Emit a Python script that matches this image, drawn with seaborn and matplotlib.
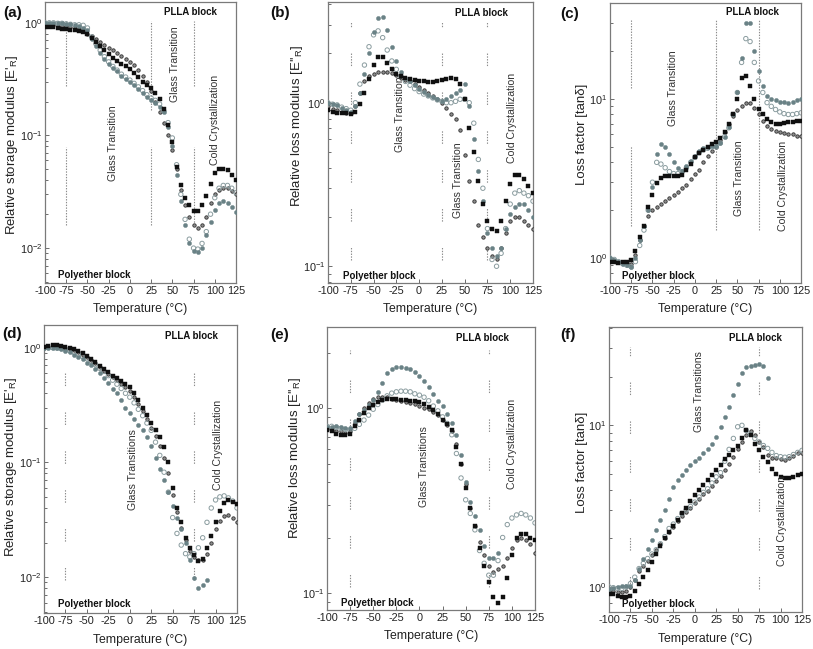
import numpy as np
import pandas as pd
import matplotlib
matplotlib.use("Agg")
import matplotlib.pyplot as plt
import seaborn as sns
from matplotlib.ticker import LogLocator, NullFormatter, LogFormatterSciNotation, FixedLocator

sns.set_theme(style="white")
plt.rcParams['font.family'] = ['Liberation Sans', 'DejaVu Sans']
plt.rcParams['mathtext.fontset'] = 'custom'
plt.rcParams['mathtext.rm'] = 'Liberation Sans'
plt.rcParams['mathtext.it'] = 'Liberation Sans:italic'
plt.rcParams['mathtext.bf'] = 'Liberation Sans:bold'
plt.rcParams['axes.unicode_minus'] = False
plt.rcParams['lines.scale_dashes'] = False

# ---------------- data ----------------
TEMP = [-100, -95, -90, -85, -80, -75, -70, -65, -60, -55, -50, -45, -40, -35, -30,
        -25, -20, -15, -10, -5, 0, 5, 10, 15, 20, 25, 30, 35, 40, 45, 50, 55, 60,
        65, 70, 75, 80, 85, 90, 95, 100, 105, 110, 115, 120, 125]
XTICKS = [-100, -75, -50, -25, 0, 25, 50, 75, 100, 125]
nan = np.nan

# (a) relative storage modulus, set 1
A_black = [0.92,0.91,0.91,0.90,0.89,0.88,0.87,0.86,0.85,0.83,0.80,0.74,0.68,0.62,0.57,0.53,0.49,0.46,0.43,0.41,
           0.39,0.36,0.33,0.30,0.28,0.265,0.24,0.21,0.17,0.125,0.088,0.052,0.036,0.028,0.024,0.0215,0.0215,0.024,0.029,0.037,
           0.046,0.050,0.050,0.049,0.045,0.040]
A_dark = [0.95,0.95,0.95,0.94,0.94,0.93,0.92,0.90,0.88,0.85,0.80,0.76,0.72,0.68,0.64,0.60,0.57,0.54,0.51,0.48,
          0.45,0.42,0.38,0.34,0.30,0.25,0.20,0.16,0.13,0.10,0.075,0.050,0.033,0.024,0.019,0.016,0.015,0.016,0.019,0.025,
          0.030,0.033,0.034,0.034,0.032,0.030]
A_open = [1.0,1.0,1.0,0.99,0.99,0.98,0.97,0.96,0.96,0.95,0.90,0.75,0.65,0.57,0.50,0.45,0.41,0.38,0.35,0.33,
          0.31,0.29,0.27,0.25,0.23,0.215,0.205,0.19,0.165,0.13,0.095,0.055,0.030,0.018,0.012,0.010,0.0098,0.011,0.014,0.020,
          0.028,0.034,0.036,0.036,0.034,0.031]
A_gray = [1.0,1.0,1.0,1.0,0.99,0.98,0.97,0.95,0.93,0.90,0.86,0.72,0.62,0.54,0.48,0.43,0.40,0.37,0.34,0.32,
          0.30,0.28,0.26,0.24,0.22,0.205,0.195,0.18,0.16,0.12,0.08,0.045,0.026,0.016,0.011,0.0095,0.0093,0.010,0.013,0.017,
          0.022,0.025,0.026,0.025,0.023,0.021]

# (b) relative loss modulus, set 1
B_black = [0.90,0.88,0.87,0.86,0.86,0.85,0.88,0.98,1.15,1.40,1.70,1.90,1.90,1.75,1.60,1.50,1.45,1.42,1.40,1.38,
           1.36,1.35,1.34,1.34,1.35,1.38,1.40,1.42,1.40,1.30,1.05,0.70,0.50,0.33,0.24,0.19,0.17,0.165,0.19,0.25,
           0.32,0.36,0.36,0.34,0.31,0.28]
B_dark = [0.95,0.92,0.90,0.88,0.87,0.86,0.95,1.15,1.35,1.45,1.50,1.55,1.55,1.55,1.52,1.48,1.42,1.38,1.35,1.30,
          1.25,1.20,1.15,1.10,1.05,1.00,0.93,0.85,0.80,0.68,0.48,0.33,0.25,0.18,0.15,0.13,0.115,0.11,0.13,0.16,
          0.19,0.20,0.20,0.19,0.18,0.17]
B_open = [1.0,0.98,0.97,0.94,0.92,0.90,1.0,1.3,1.7,2.2,2.6,2.75,2.5,2.1,1.8,1.6,1.45,1.35,1.28,1.22,
          1.17,1.13,1.10,1.07,1.04,1.02,1.00,1.00,1.02,1.05,1.05,1.00,0.75,0.45,0.30,0.17,0.11,0.10,0.12,0.17,
          0.24,0.28,0.29,0.28,0.27,0.25]
B_gray = [1.0,0.98,0.97,0.93,0.90,0.88,0.95,1.15,1.5,2.0,2.7,3.3,3.35,2.8,2.2,1.8,1.55,1.42,1.35,1.28,
          1.22,1.16,1.12,1.08,1.05,1.03,1.05,1.10,1.15,1.20,1.30,0.95,0.60,0.38,0.25,0.16,0.13,0.115,0.13,0.17,
          0.21,0.23,0.24,0.24,0.22,0.20]

# (c) loss factor, set 1
C_black = [0.95,0.94,0.93,0.94,0.95,0.97,1.1,1.35,1.6,2.1,2.5,2.95,3.2,3.3,3.3,3.3,3.3,3.35,3.6,3.9,
           4.3,4.6,4.8,5.0,5.2,5.4,5.7,6.2,7.0,8.0,10.0,13.5,14.0,12.0,10.0,8.7,8.0,7.5,7.2,7.0,
           7.0,7.1,7.2,7.2,7.3,7.3]
C_dark = [0.97,0.96,0.95,0.94,0.93,0.92,1.05,1.3,1.6,1.85,2.0,2.1,2.2,2.3,2.4,2.5,2.6,2.75,2.9,3.15,
          3.4,3.6,4.0,4.4,4.7,5.0,5.5,6.2,7.0,7.8,8.5,9.0,9.5,9.5,8.8,8.0,7.3,6.8,6.5,6.3,
          6.2,6.1,6.0,6.0,5.9,5.9]
C_open = [1.0,0.98,0.95,0.92,0.90,0.88,0.95,1.2,1.5,2.0,3.0,4.0,3.9,3.7,3.5,3.4,3.4,3.5,3.7,4.0,
          4.3,4.6,4.8,4.9,5.0,5.0,5.3,5.8,6.6,8.0,11,17,24,23,17,13,11,9.5,9.0,8.6,
          8.3,8.1,8.0,8.0,8.1,8.2]
C_gray = [1.0,0.97,0.94,0.92,0.90,0.88,1.0,1.3,1.6,2.0,2.8,4.5,5.2,5.0,4.5,4.0,3.7,3.55,3.8,4.1,
          4.4,4.7,4.9,5.0,5.1,5.1,5.3,5.8,6.7,8.0,11,18,30,30,20,15,12,10.5,10,9.8,
          9.6,9.6,9.5,9.6,9.8,10]

# (d) relative storage modulus, set 2
D_black = [1.02,1.04,1.05,1.05,1.04,1.02,1.0,0.97,0.93,0.89,0.85,0.8,0.75,0.69,0.65,0.61,0.57,0.54,0.51,0.48,
           0.45,0.40,0.35,0.30,0.26,0.22,0.19,0.165,0.135,0.1,0.06,0.04,0.03,0.022,0.018,0.0155,0.0138,0.0145,0.018,0.023,
           0.03,0.038,0.044,0.047,0.045,0.043]
D_dark = [1.0,1.02,1.03,1.03,1.02,1.0,0.98,0.95,0.91,0.87,0.83,0.78,0.73,0.68,0.63,0.59,0.55,0.52,0.48,0.45,
          0.42,0.37,0.32,0.28,0.24,0.20,0.17,0.14,0.11,0.08,0.052,0.037,0.027,0.021,0.017,0.015,0.014,0.014,0.016,0.02,
          0.026,0.031,0.034,0.035,0.033,0.03]
D_open = [1.0,1.0,1.0,0.99,0.98,0.96,0.94,0.91,0.88,0.84,0.80,0.76,0.71,0.66,0.62,0.57,0.52,0.48,0.44,0.40,
          0.37,0.33,0.29,0.255,0.22,0.19,0.15,0.115,0.082,0.055,0.033,0.024,0.019,0.016,0.015,0.016,0.018,0.022,0.03,0.04,
          0.047,0.05,0.051,0.049,0.046,0.04]
D_gray = [1.0,1.0,1.0,0.99,0.97,0.94,0.91,0.87,0.83,0.79,0.74,0.70,0.65,0.60,0.54,0.49,0.44,0.40,0.35,0.30,
          0.27,0.24,0.21,0.19,0.165,0.14,0.11,0.088,0.07,0.055,0.042,0.033,0.026,0.02,0.014,0.0098,0.008,0.0085,0.0095,nan,
          nan,nan,nan,nan,nan,nan]

# (e) relative loss modulus, set 2
E_black = [0.76,0.75,0.73,0.72,0.72,0.73,0.8,0.87,0.94,1.0,1.05,1.09,1.11,1.12,1.12,1.12,1.11,1.11,1.1,1.1,
           1.09,1.06,1.02,0.98,0.93,0.87,0.82,0.76,0.62,0.5,0.37,0.29,0.23,0.175,0.14,0.115,0.095,0.088,0.095,0.12,
           0.16,0.2,0.21,0.21,0.2,0.195]
E_dark = [0.77,0.76,0.75,0.75,0.74,0.75,0.83,0.93,1.0,1.07,1.12,1.15,1.16,1.15,1.13,1.11,1.1,1.08,1.07,1.06,
          1.03,1.01,0.99,0.96,0.92,0.87,0.81,0.75,0.64,0.5,0.39,0.29,0.23,0.19,0.16,0.14,0.13,0.135,0.14,0.155,
          0.175,0.194,0.2,0.195,0.185,0.165]
E_open = [0.8,0.8,0.79,0.78,0.77,0.76,0.78,0.82,0.865,0.92,0.99,1.05,1.11,1.17,1.21,1.23,1.24,1.24,1.23,1.2,
          1.18,1.15,1.1,1.03,0.97,0.9,0.83,0.72,0.57,0.42,0.32,0.27,0.22,0.17,0.145,0.125,0.125,0.15,0.2,0.235,
          0.255,0.265,0.27,0.265,0.255,0.24]
E_gray = [0.79,0.79,0.80,0.79,0.78,0.78,0.86,0.93,0.98,1.04,1.11,1.22,1.37,1.55,1.64,1.68,1.67,1.65,1.63,1.58,
          1.5,1.4,1.3,1.2,1.1,1.03,0.93,0.83,0.72,0.56,0.4,0.31,0.26,0.22,0.18,0.155,0.155,0.165,nan,nan,
          nan,nan,nan,nan,nan,nan]

# (f) loss factor, set 2
F_black = [0.91,0.9,0.88,0.87,0.87,0.88,0.95,1.05,1.15,1.27,1.42,1.6,1.8,2.0,2.2,2.4,2.6,2.85,3.1,3.4,
           3.7,4.0,4.3,4.6,4.95,5.3,5.7,6.2,6.6,7.0,7.5,8.3,9.4,8.7,7.7,7.0,6.4,5.9,5.4,5.0,
           4.8,4.7,4.7,4.8,4.9,5.0]
F_dark = [0.95,0.94,0.93,0.93,0.95,1.0,1.1,1.25,1.35,1.45,1.57,1.7,1.85,2.0,2.2,2.35,2.55,2.75,2.9,3.1,
          3.3,3.5,3.75,3.95,4.2,4.55,4.85,5.3,5.8,6.4,7.1,7.9,8.7,9.2,8.7,7.9,7.3,6.6,6.3,6.3,
          6.2,6.1,6.3,6.5,6.7,6.7]
F_open = [1.0,0.99,0.98,0.98,1.0,1.05,1.15,1.3,1.4,1.5,1.6,1.7,1.85,2.05,2.3,2.45,2.65,2.85,3.0,3.15,
          3.35,3.6,3.85,4.05,4.4,4.8,5.1,6.0,7.1,8.3,9.8,10.0,9.3,8.8,8.3,7.9,7.5,7.2,6.8,6.5,
          6.4,6.35,6.4,6.6,6.8,7.0]
F_gray = [0.97,0.98,1.0,1.02,1.01,1.02,1.1,1.3,1.5,1.72,1.95,2.24,2.6,3.0,3.5,4.15,4.6,4.95,5.3,5.7,
          6.0,6.3,6.7,7.1,7.7,8.5,9.8,11.2,13,15.5,18,21,22.8,23.3,23.6,24,23.4,19.5,nan,nan,
          nan,nan,nan,nan,nan,nan]

PANEL_DATA = {
    'a': {'black': A_black, 'dark': A_dark, 'open': A_open, 'gray': A_gray},
    'b': {'black': B_black, 'dark': B_dark, 'open': B_open, 'gray': B_gray},
    'c': {'black': C_black, 'dark': C_dark, 'open': C_open, 'gray': C_gray},
    'd': {'black': D_black, 'dark': D_dark, 'open': D_open, 'gray': D_gray},
    'e': {'black': E_black, 'dark': E_dark, 'open': E_open, 'gray': E_gray},
    'f': {'black': F_black, 'dark': F_dark, 'open': F_open, 'gray': F_gray},
}

YLABEL_STORAGE = "Relative storage modulus [E'$_{\\rm R}$]"
YLABEL_LOSS = "Relative loss modulus [E''$_{\\rm R}$]"
YLABEL_TAN = "Loss factor [tanδ]"
XLABEL = "Temperature (°C)"

# ---------------- layout / style ----------------
W, H = 813, 649
# pixel boxes: left, top, right, bottom
BOX = {'a': (45, 2, 236, 283), 'b': (328, 2, 533, 283), 'c': (610, 3, 801, 283),
       'd': (44, 325, 237, 613), 'e': (327, 327, 535, 610), 'f': (609, 327, 802, 612)}
YLIM = {'a': (0.0049, 1.53), 'b': (0.079, 4.13), 'c': (0.697, 40.2),
        'd': (0.00486, 1.575), 'e': (0.081, 2.76), 'f': (0.70, 40.6)}
YLAB = {'a': YLABEL_STORAGE, 'b': YLABEL_LOSS, 'c': YLABEL_TAN,
        'd': YLABEL_STORAGE, 'e': YLABEL_LOSS, 'f': YLABEL_TAN}
YLAB_POS = {'a': (-0.13, 0.49), 'b': (-0.112, 0.56), 'c': (-0.115, 0.53),
            'd': (-0.128, 0.507), 'e': (-0.115, 0.537), 'f': (-0.109, 0.526)}

# reference lines
VL_ABC = [-75, 25, 75]
VL_DEF = [-75, 75]
# (x, list of (ymin, ymax) in axis fraction, style)
VLINES = {
    'a': [(VL_ABC[0], [(0.70, 0.933), (0.207, 0.485)], 'gap'),
          (VL_ABC[1], [(0.615, 0.933), (0.207, 0.485)], 'gap'),
          (VL_ABC[2], [(0.70, 0.933), (0.207, 0.485)], 'gap')],
    'b': [(x, [(0.083, 0.929)], 'dash') for x in VL_ABC],
    'c': [(VL_ABC[0], [(0.696, 0.938), (0.202, 0.488)], 'gap'),
          (VL_ABC[1], [(0.19, 0.938)], 'gap'),
          (VL_ABC[2], [(0.19, 0.938)], 'gap')],
    'd': [(x, [(0.116, 0.908)], 'dash') for x in VL_DEF],
    'e': [(x, [(0.082, 0.918)], 'dash') for x in VL_DEF],
    'f': [(x, [(0.082, 0.93)], 'dash') for x in VL_DEF],
}

# annotation texts (axes-fraction positions)
ANN = {
    'a': [("PLLA block", 0.76, 0.964, 0, True), ("Polyether block", 0.258, 0.03, 0, True),
          ("Glass Transition", 0.358, 0.497, 90, False), ("Glass Transition", 0.68, 0.78, 90, False),
          ("Cold Crystallization", 0.89, 0.58, 90, False)],
    'b': [("PLLA block", 0.748, 0.961, 0, True), ("Polyether block", 0.252, 0.026, 0, True),
          ("Glass Transition", 0.35, 0.60, 90, False), ("Glass Transition", 0.634, 0.367, 90, False),
          ("Cold Crystallization", 0.898, 0.586, 90, False)],
    'c': [("PLLA block", 0.745, 0.967, 0, True), ("Polyether block", 0.253, 0.026, 0, True),
          ("Glass Transition", 0.332, 0.696, 90, False), ("Glass Transition", 0.678, 0.375, 90, False),
          ("Cold Crystallization", 0.904, 0.345, 90, False)],
    'd': [("PLLA block", 0.764, 0.963, 0, True), ("Polyether block", 0.26, 0.032, 0, True),
          ("Glass Transitions", 0.462, 0.497, 90, False),
          ("Cold Crystallization", 0.902, 0.584, 90, False)],
    'e': [("PLLA block", 0.746, 0.962, 0, True), ("Polyether block", 0.243, 0.026, 0, True),
          ("Glass Transitions", 0.464, 0.506, 90, False),
          ("Cold Crystallization", 0.891, 0.588, 90, False)],
    'f': [("PLLA block", 0.76, 0.963, 0, True), ("Polyether block", 0.257, 0.027, 0, True),
          ("Glass Transitions", 0.465, 0.772, 90, False),
          ("Cold Crystallization", 0.896, 0.32, 90, False)],
}
PANEL_LABEL_POS = {'a': (3, 13), 'b': (270, 13), 'c': (560, 14), 'd': (2, 334), 'e': (270, 335), 'f': (560, 335)}

STYLE = {
    'dark': dict(marker='o', s=6, color='#2e2e2e', facecolor='#8e8e8e', edgecolor='#2e2e2e', linewidth=0.6),
    'open': dict(marker='o', s=10, color='#8a9c9f', facecolor='none', edgecolor='#8a9c9f', linewidth=0.7),
    'gray': dict(marker='o', s=9, color='#6a8286', edgecolor='#6a8286', linewidth=0.3),
    'black': dict(marker='s', s=6, color='#101010', edgecolor='#101010', linewidth=0.3),
}
ORDER = ['dark', 'open', 'gray', 'black']

LINE_COLOR = '#8c8c8c'
DOT = (0, (1.0, 1.0))
DASH = (0, [1.0, 1.0] * 4 + [1.0, 19.0])

fig = plt.figure(figsize=(W / 100, H / 100), dpi=100)

for key in ['a', 'b', 'c', 'd', 'e', 'f']:
    l, t, r, b = BOX[key]
    ax = fig.add_axes([l / W, 1 - b / H, (r - l) / W, (b - t) / H])
    rows = []
    for name, vals in PANEL_DATA[key].items():
        for T, v in zip(TEMP, vals):
            rows.append((T, v, name))
    df = pd.DataFrame(rows, columns=['T', 'value', 'series']).dropna()

    ax.set_yscale('log')
    for name in ORDER:
        st = dict(STYLE[name])
        sub = df[df['series'] == name]
        sns.scatterplot(data=sub, x='T', y='value', ax=ax, legend=False, zorder=3, **st)
        if st.get('facecolor') == 'none':
            ax.collections[-1].set_facecolor('none')

    for x, segs, kind in VLINES[key]:
        for y0, y1 in segs:
            ax.axvline(x, ymin=y0, ymax=y1, color=LINE_COLOR, lw=0.8,
                       linestyle=DOT if kind == 'gap' else DASH, zorder=1)

    ax.set_xlim(-100, 125)
    ax.set_ylim(*YLIM[key])
    ax.xaxis.set_major_locator(FixedLocator(XTICKS))
    ax.yaxis.set_major_locator(LogLocator(base=10, numticks=10))
    ax.yaxis.set_major_formatter(LogFormatterSciNotation())
    ax.yaxis.set_minor_locator(LogLocator(base=10, subs=np.arange(2, 10), numticks=20))
    ax.yaxis.set_minor_formatter(NullFormatter())
    ax.tick_params(axis='both', which='both', direction='in', bottom=True, left=True,
                   top=False, right=False, colors='#555555', labelcolor='#222222',
                   width=0.6, labelsize=7.8, pad=2)
    ax.tick_params(axis='both', which='major', length=3)
    ax.tick_params(axis='y', which='minor', length=1.8)
    for sp in ax.spines.values():
        sp.set_color('#7a7a7a')
        sp.set_linewidth(0.9)

    ax.set_xlabel(XLABEL, fontsize=8.8, color='#222222')
    ax.xaxis.set_label_coords(0.5, -0.072)
    ax.set_ylabel(YLAB[key], fontsize=9.5, color='#222222')
    ax.yaxis.set_label_coords(*YLAB_POS[key])

    for txt, xf, yf, rot, bold in ANN[key]:
        ax.text(xf, yf, txt, transform=ax.transAxes, rotation=rot,
                ha='center', va='center', fontsize=7.0 if bold else 7.6,
                fontweight='bold' if bold else 'normal', color='#111111' if bold else '#333333',
                zorder=4)

    px, py = PANEL_LABEL_POS[key]
    fig.text(px / W, 1 - py / H, f"({key})", fontsize=11, fontweight='bold',
             ha='left', va='center', color='#111111')

fig.savefig("out.png", dpi=100)
